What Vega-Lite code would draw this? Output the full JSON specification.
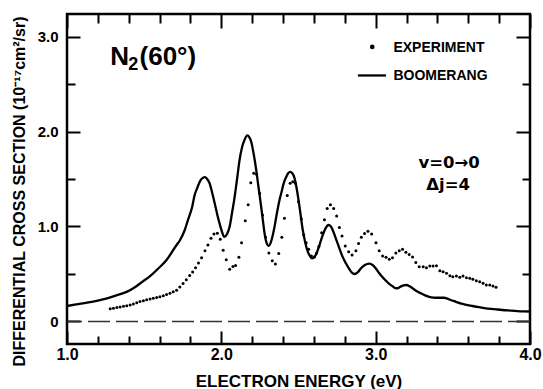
{
  "$schema": "https://vega.github.io/schema/vega-lite/v6.json",
  "width": 463,
  "height": 330,
  "autosize": "none",
  "padding": {"left": 67, "top": 14, "right": 13, "bottom": 45},
  "background": "white",
  "config": {
    "view": {"stroke": "black", "strokeWidth": 2.5},
    "font": "Liberation Sans",
    "axis": {"labelFont": "Liberation Sans", "titleFont": "Liberation Sans", "labelColor": "black", "titleColor": "black", "labelFontWeight": "bold", "titleFontWeight": "bold", "grid": false, "domain": false, "labelFlush": false, "labelOverlap": false, "labelBound": false}
  },
  "datasets": {
    "boomerang": [
      {"energy": 1.0, "cs": 0.163}, {"energy": 1.06, "cs": 0.18}, {"energy": 1.13, "cs": 0.198}, {"energy": 1.2, "cs": 0.22},
      {"energy": 1.26, "cs": 0.244}, {"energy": 1.32, "cs": 0.275}, {"energy": 1.39, "cs": 0.314}, {"energy": 1.44, "cs": 0.36},
      {"energy": 1.49, "cs": 0.42}, {"energy": 1.54, "cs": 0.48}, {"energy": 1.58, "cs": 0.54}, {"energy": 1.645, "cs": 0.647},
      {"energy": 1.71, "cs": 0.805}, {"energy": 1.73, "cs": 0.85}, {"energy": 1.763, "cs": 0.963}, {"energy": 1.784, "cs": 1.07},
      {"energy": 1.81, "cs": 1.2}, {"energy": 1.827, "cs": 1.33}, {"energy": 1.845, "cs": 1.41}, {"energy": 1.86, "cs": 1.47},
      {"energy": 1.875, "cs": 1.505}, {"energy": 1.892, "cs": 1.52}, {"energy": 1.908, "cs": 1.5}, {"energy": 1.924, "cs": 1.455},
      {"energy": 1.94, "cs": 1.36}, {"energy": 1.957, "cs": 1.244}, {"energy": 1.973, "cs": 1.13}, {"energy": 1.989, "cs": 1.03},
      {"energy": 2.005, "cs": 0.94}, {"energy": 2.02, "cs": 0.89}, {"energy": 2.037, "cs": 0.92}, {"energy": 2.054, "cs": 1.0},
      {"energy": 2.07, "cs": 1.15}, {"energy": 2.086, "cs": 1.31}, {"energy": 2.102, "cs": 1.5}, {"energy": 2.118, "cs": 1.7},
      {"energy": 2.135, "cs": 1.84}, {"energy": 2.15, "cs": 1.91}, {"energy": 2.168, "cs": 1.96}, {"energy": 2.181, "cs": 1.94},
      {"energy": 2.194, "cs": 1.89}, {"energy": 2.21, "cs": 1.76}, {"energy": 2.226, "cs": 1.595}, {"energy": 2.242, "cs": 1.4},
      {"energy": 2.258, "cs": 1.21}, {"energy": 2.271, "cs": 1.04}, {"energy": 2.284, "cs": 0.89}, {"energy": 2.295, "cs": 0.82},
      {"energy": 2.306, "cs": 0.795}, {"energy": 2.32, "cs": 0.83}, {"energy": 2.332, "cs": 0.9}, {"energy": 2.345, "cs": 1.0},
      {"energy": 2.36, "cs": 1.14}, {"energy": 2.377, "cs": 1.28}, {"energy": 2.388, "cs": 1.35}, {"energy": 2.405, "cs": 1.46},
      {"energy": 2.42, "cs": 1.52}, {"energy": 2.433, "cs": 1.56}, {"energy": 2.446, "cs": 1.574}, {"energy": 2.46, "cs": 1.56},
      {"energy": 2.474, "cs": 1.51}, {"energy": 2.487, "cs": 1.41}, {"energy": 2.5, "cs": 1.28}, {"energy": 2.514, "cs": 1.12},
      {"energy": 2.528, "cs": 0.96}, {"energy": 2.544, "cs": 0.83}, {"energy": 2.56, "cs": 0.735}, {"energy": 2.574, "cs": 0.69},
      {"energy": 2.588, "cs": 0.665}, {"energy": 2.603, "cs": 0.68}, {"energy": 2.618, "cs": 0.72}, {"energy": 2.637, "cs": 0.81},
      {"energy": 2.657, "cs": 0.91}, {"energy": 2.675, "cs": 0.98}, {"energy": 2.694, "cs": 1.016}, {"energy": 2.71, "cs": 1.0},
      {"energy": 2.726, "cs": 0.945}, {"energy": 2.745, "cs": 0.86}, {"energy": 2.765, "cs": 0.77}, {"energy": 2.786, "cs": 0.68},
      {"energy": 2.808, "cs": 0.61}, {"energy": 2.83, "cs": 0.55}, {"energy": 2.846, "cs": 0.515}, {"energy": 2.862, "cs": 0.5},
      {"energy": 2.885, "cs": 0.52}, {"energy": 2.905, "cs": 0.56}, {"energy": 2.93, "cs": 0.595}, {"energy": 2.959, "cs": 0.61},
      {"energy": 2.98, "cs": 0.595}, {"energy": 3.0, "cs": 0.56}, {"energy": 3.022, "cs": 0.51}, {"energy": 3.045, "cs": 0.465},
      {"energy": 3.066, "cs": 0.43}, {"energy": 3.088, "cs": 0.395}, {"energy": 3.11, "cs": 0.37}, {"energy": 3.131, "cs": 0.35},
      {"energy": 3.145, "cs": 0.352}, {"energy": 3.16, "cs": 0.366}, {"energy": 3.18, "cs": 0.38}, {"energy": 3.2, "cs": 0.384},
      {"energy": 3.22, "cs": 0.37}, {"energy": 3.239, "cs": 0.35}, {"energy": 3.265, "cs": 0.32}, {"energy": 3.293, "cs": 0.297},
      {"energy": 3.32, "cs": 0.275}, {"energy": 3.347, "cs": 0.26}, {"energy": 3.375, "cs": 0.252}, {"energy": 3.4, "cs": 0.25},
      {"energy": 3.443, "cs": 0.25}, {"energy": 3.465, "cs": 0.24}, {"energy": 3.486, "cs": 0.226}, {"energy": 3.52, "cs": 0.207},
      {"energy": 3.55, "cs": 0.19}, {"energy": 3.59, "cs": 0.175}, {"energy": 3.627, "cs": 0.163}, {"energy": 3.67, "cs": 0.15},
      {"energy": 3.713, "cs": 0.139}, {"energy": 3.77, "cs": 0.13}, {"energy": 3.82, "cs": 0.121}, {"energy": 3.87, "cs": 0.115},
      {"energy": 3.917, "cs": 0.11}, {"energy": 3.96, "cs": 0.107}, {"energy": 4.0, "cs": 0.105}
    ],
    "experiment": [
      {"energy": 1.28, "cs": 0.135}, {"energy": 1.301, "cs": 0.14}, {"energy": 1.323, "cs": 0.146}, {"energy": 1.344, "cs": 0.153},
      {"energy": 1.366, "cs": 0.16}, {"energy": 1.387, "cs": 0.166}, {"energy": 1.409, "cs": 0.174}, {"energy": 1.43, "cs": 0.185},
      {"energy": 1.452, "cs": 0.198}, {"energy": 1.473, "cs": 0.21}, {"energy": 1.495, "cs": 0.219}, {"energy": 1.516, "cs": 0.228},
      {"energy": 1.538, "cs": 0.237}, {"energy": 1.559, "cs": 0.244}, {"energy": 1.581, "cs": 0.252}, {"energy": 1.602, "cs": 0.26},
      {"energy": 1.624, "cs": 0.272}, {"energy": 1.645, "cs": 0.285}, {"energy": 1.667, "cs": 0.297}, {"energy": 1.688, "cs": 0.312},
      {"energy": 1.71, "cs": 0.33}, {"energy": 1.731, "cs": 0.362}, {"energy": 1.752, "cs": 0.4}, {"energy": 1.773, "cs": 0.44},
      {"energy": 1.795, "cs": 0.485}, {"energy": 1.814, "cs": 0.52}, {"energy": 1.833, "cs": 0.565}, {"energy": 1.852, "cs": 0.615},
      {"energy": 1.872, "cs": 0.67}, {"energy": 1.894, "cs": 0.745}, {"energy": 1.913, "cs": 0.805}, {"energy": 1.933, "cs": 0.876},
      {"energy": 1.952, "cs": 0.92}, {"energy": 1.974, "cs": 0.93}, {"energy": 1.993, "cs": 0.865}, {"energy": 2.012, "cs": 0.75},
      {"energy": 2.032, "cs": 0.65}, {"energy": 2.054, "cs": 0.55}, {"energy": 2.075, "cs": 0.58}, {"energy": 2.092, "cs": 0.59},
      {"energy": 2.114, "cs": 0.675}, {"energy": 2.131, "cs": 0.83}, {"energy": 2.155, "cs": 1.06}, {"energy": 2.174, "cs": 1.23},
      {"energy": 2.191, "cs": 1.46}, {"energy": 2.21, "cs": 1.56}, {"energy": 2.228, "cs": 1.55}, {"energy": 2.248, "cs": 1.35},
      {"energy": 2.267, "cs": 1.12}, {"energy": 2.286, "cs": 0.89}, {"energy": 2.308, "cs": 0.72}, {"energy": 2.33, "cs": 0.64},
      {"energy": 2.35, "cs": 0.605}, {"energy": 2.372, "cs": 0.715}, {"energy": 2.392, "cs": 0.886}, {"energy": 2.409, "cs": 1.086},
      {"energy": 2.427, "cs": 1.325}, {"energy": 2.446, "cs": 1.455}, {"energy": 2.463, "cs": 1.47}, {"energy": 2.48, "cs": 1.455},
      {"energy": 2.5, "cs": 1.26}, {"energy": 2.518, "cs": 1.08}, {"energy": 2.534, "cs": 0.91}, {"energy": 2.55, "cs": 0.83},
      {"energy": 2.566, "cs": 0.76}, {"energy": 2.584, "cs": 0.69}, {"energy": 2.603, "cs": 0.68}, {"energy": 2.617, "cs": 0.72},
      {"energy": 2.632, "cs": 0.79}, {"energy": 2.65, "cs": 0.935}, {"energy": 2.668, "cs": 1.07}, {"energy": 2.686, "cs": 1.19},
      {"energy": 2.707, "cs": 1.23}, {"energy": 2.728, "cs": 1.19}, {"energy": 2.747, "cs": 1.11}, {"energy": 2.765, "cs": 0.99},
      {"energy": 2.782, "cs": 0.9}, {"energy": 2.803, "cs": 0.795}, {"energy": 2.825, "cs": 0.735}, {"energy": 2.847, "cs": 0.7},
      {"energy": 2.872, "cs": 0.745}, {"energy": 2.889, "cs": 0.82}, {"energy": 2.907, "cs": 0.886}, {"energy": 2.928, "cs": 0.925},
      {"energy": 2.95, "cs": 0.95}, {"energy": 2.974, "cs": 0.92}, {"energy": 3.002, "cs": 0.83}, {"energy": 3.023, "cs": 0.745},
      {"energy": 3.045, "cs": 0.69}, {"energy": 3.067, "cs": 0.675}, {"energy": 3.088, "cs": 0.655}, {"energy": 3.109, "cs": 0.67},
      {"energy": 3.131, "cs": 0.72}, {"energy": 3.153, "cs": 0.745}, {"energy": 3.174, "cs": 0.76}, {"energy": 3.196, "cs": 0.73},
      {"energy": 3.217, "cs": 0.705}, {"energy": 3.239, "cs": 0.68}, {"energy": 3.26, "cs": 0.62}, {"energy": 3.282, "cs": 0.577},
      {"energy": 3.308, "cs": 0.577}, {"energy": 3.329, "cs": 0.567}, {"energy": 3.351, "cs": 0.584}, {"energy": 3.372, "cs": 0.584},
      {"energy": 3.394, "cs": 0.587}, {"energy": 3.416, "cs": 0.535}, {"energy": 3.437, "cs": 0.524}, {"energy": 3.459, "cs": 0.507},
      {"energy": 3.481, "cs": 0.482}, {"energy": 3.5, "cs": 0.472}, {"energy": 3.523, "cs": 0.479}, {"energy": 3.545, "cs": 0.465},
      {"energy": 3.566, "cs": 0.479}, {"energy": 3.588, "cs": 0.461}, {"energy": 3.61, "cs": 0.455}, {"energy": 3.63, "cs": 0.444},
      {"energy": 3.652, "cs": 0.43}, {"energy": 3.674, "cs": 0.419}, {"energy": 3.696, "cs": 0.402}, {"energy": 3.717, "cs": 0.384},
      {"energy": 3.739, "cs": 0.384}, {"energy": 3.76, "cs": 0.374}, {"energy": 3.78, "cs": 0.36}
    ]
  },
  "layer": [
    {
      "data": {"values": [{"cs": 0}]},
      "mark": {"type": "rule", "strokeDash": [22, 6], "color": "#333333", "strokeWidth": 1.5},
      "encoding": {
        "y": {"field": "cs", "type": "quantitative", "scale": {"domain": [-0.237, 3.237], "nice": false, "zero": false}, "axis": null}
      }
    },
    {
      "data": {"name": "boomerang"},
      "mark": {"type": "line", "color": "black", "strokeWidth": 2.3, "interpolate": "monotone"},
      "encoding": {
        "x": {
          "field": "energy", "type": "quantitative",
          "scale": {"domain": [1, 4], "nice": false, "zero": false},
          "axis": {
            "orient": "bottom",
            "values": [1, 2, 3, 4],
            "format": ".1f",
            "ticks": false,
            "labelFontSize": 16,
            "labelPadding": 2,
            "title": "ELECTRON ENERGY (eV)",
            "titleFontSize": 17,
            "titleBaseline": "alphabetic",
            "titleY": 42
          }
        },
        "y": {
          "field": "cs", "type": "quantitative",
          "axis": {
            "orient": "left",
            "values": [0, 1, 2, 3],
            "labelExpr": "datum.value == 0 ? '0' : format(datum.value, '.1f')",
            "ticks": false,
            "labelFontSize": 15,
            "labelPadding": 9,
            "title": "DIFFERENTIAL CROSS SECTION (10⁻¹⁷cm²/sr)",
            "titleFontSize": 16,
            "titlePadding": 10,
            "titleY": 177
          }
        }
      }
    },
    {
      "data": {"name": "experiment"},
      "mark": {"type": "point", "filled": true, "color": "black", "opacity": 1, "size": 9},
      "encoding": {
        "x": {"field": "energy", "type": "quantitative", "axis": {"orient": "bottom", "values": [1.2, 1.4, 1.6, 1.8, 2.2, 2.4, 2.6, 2.8, 3.2, 3.4, 3.6, 3.8], "labels": false, "title": null, "tickSize": -8, "tickColor": "black", "tickWidth": 2}},
        "y": {"field": "cs", "type": "quantitative", "axis": {"orient": "left", "values": [0.5, 1.5, 2.5], "labels": false, "title": null, "tickSize": -8, "tickColor": "black", "tickWidth": 2}}
      }
    },
    {
      "data": {"values": [{"energy": 1.28, "cs": 2.704, "t": "N"}, {"energy": 1.47, "cs": 2.704, "t": "(60°)"}]},
      "mark": {"type": "text", "align": "left", "baseline": "alphabetic", "font": "Liberation Sans", "fontWeight": "bold", "fontSize": 26, "color": "black"},
      "encoding": {
        "x": {"field": "energy", "type": "quantitative", "axis": {"orient": "bottom", "values": [1, 2, 3, 4], "labels": false, "title": null, "tickSize": -13, "tickColor": "black", "tickWidth": 2}},
        "y": {"field": "cs", "type": "quantitative", "axis": {"orient": "left", "values": [0, 1, 2, 3], "labels": false, "title": null, "tickSize": -13, "tickColor": "black", "tickWidth": 2}},
        "text": {"field": "t"}
      }
    },
    {
      "data": {"values": [{"energy": 1.397, "cs": 2.651, "t": "2"}]},
      "mark": {"type": "text", "align": "left", "baseline": "alphabetic", "font": "Liberation Sans", "fontWeight": "bold", "fontSize": 18, "color": "black"},
      "encoding": {
        "x": {"field": "energy", "type": "quantitative", "axis": {"orient": "top", "values": [1.2, 1.4, 1.6, 1.8, 2.2, 2.4, 2.6, 2.8, 3.2, 3.4, 3.6, 3.8], "labels": false, "title": null, "tickSize": -9, "tickColor": "black", "tickWidth": 2}},
        "y": {"field": "cs", "type": "quantitative", "axis": {"orient": "right", "values": [0.5, 1.5, 2.5], "labels": false, "title": null, "tickSize": -8, "tickColor": "black", "tickWidth": 2}},
        "text": {"field": "t"}
      }
    },
    {
      "data": {"values": [{"energy": 3.476, "cs": 1.613, "t": "v=0→0"}, {"energy": 3.47, "cs": 1.384, "t": "Δj=4"}]},
      "mark": {"type": "text", "align": "center", "baseline": "alphabetic", "font": "DejaVu Sans", "fontWeight": "bold", "fontSize": 16.5, "color": "black"},
      "encoding": {
        "x": {"field": "energy", "type": "quantitative", "axis": {"orient": "top", "values": [1, 2, 3, 4], "labels": false, "title": null, "tickSize": -14, "tickColor": "black", "tickWidth": 2}},
        "y": {"field": "cs", "type": "quantitative", "axis": {"orient": "right", "values": [0, 1, 2, 3], "labels": false, "title": null, "tickSize": -14, "tickColor": "black", "tickWidth": 2}},
        "text": {"field": "t"}
      }
    },
    {
      "data": {"values": [{"energy": 2.978, "cs": 2.89}]},
      "mark": {"type": "point", "filled": true, "color": "black", "opacity": 1, "size": 22},
      "encoding": {
        "x": {"field": "energy", "type": "quantitative", "axis": null},
        "y": {"field": "cs", "type": "quantitative", "axis": null}
      }
    },
    {
      "data": {"values": [{"from": 2.885, "to": 3.067, "cs": 2.59}]},
      "mark": {"type": "rule", "color": "black", "strokeWidth": 2.3},
      "encoding": {
        "x": {"field": "from", "type": "quantitative", "axis": null},
        "x2": {"field": "to"},
        "y": {"field": "cs", "type": "quantitative", "axis": null}
      }
    },
    {
      "data": {"values": [{"energy": 3.115, "cs": 2.835, "t": "EXPERIMENT"}, {"energy": 3.115, "cs": 2.545, "t": "BOOMERANG"}]},
      "mark": {"type": "text", "align": "left", "baseline": "alphabetic", "font": "Liberation Sans", "fontWeight": "bold", "fontSize": 14, "color": "black"},
      "encoding": {
        "x": {"field": "energy", "type": "quantitative", "axis": null},
        "y": {"field": "cs", "type": "quantitative", "axis": null},
        "text": {"field": "t"}
      }
    }
  ],
  "resolve": {"axis": {"x": "independent", "y": "independent"}}
}
